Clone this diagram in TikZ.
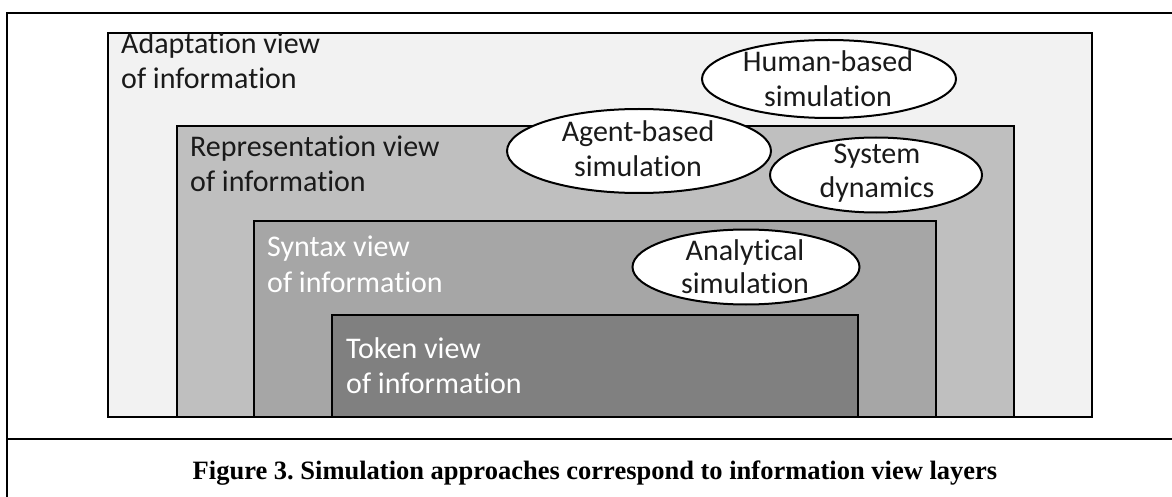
\documentclass[tikz,border=0pt]{standalone}
\usepackage{fontspec}
\setmainfont[Ligatures={NoCommon,NoRequired,NoContextual}]{Carlito}
\newfontfamily\capfont{Liberation Serif}
\usetikzlibrary{shapes.geometric}
\definecolor{adaptfill}{HTML}{F2F2F2}
\definecolor{reprfill}{HTML}{BFBFBF}
\definecolor{syntfill}{HTML}{A6A6A6}
\definecolor{tokfill}{HTML}{808080}
\definecolor{darktext}{HTML}{1A1A1A}
\newcommand{\tI}{t\kern0pt i}
\frenchspacing
\tikzset{
  layerbox/.style={draw=black, line width=2.4pt},
  lbl/.style={anchor=base west, inner sep=0pt, font=\fontsize{30}{35}\selectfont},
  elltxt/.style={anchor=base, inner sep=0pt, font=\fontsize{30}{35}\selectfont, text=darktext},
  simell/.style={ellipse, draw=black, line width=2pt, fill=white, inner sep=0pt},
  framel/.style={line width=1.8pt}
}
\begin{document}
\begin{tikzpicture}[x=1pt,y=-1pt]
\useasboundingbox (0,0) rectangle (1172,497);
% outer frame
\coordinate (fbl) at (7,497);
\coordinate (ftl) at (7,13);
\coordinate (ftr) at (1172,13);
\coordinate (fdl) at (7,439);
\coordinate (fdr) at (1172,439);
\draw[framel] (fbl) -- (ftl) -- (ftr);
\draw[framel] (fdl) -- (fdr);
% layers
\draw[layerbox, fill=adaptfill] (108,33) rectangle (1092,417);
\draw[layerbox, fill=reprfill] (177,126) rectangle (1014,417);
\draw[layerbox, fill=syntfill] (254,221) rectangle (936,417);
\draw[layerbox, fill=tokfill] (332,315) rectangle (858,417);
\draw[layerbox] (108,417) -- (1092,417);
% layer labels
\node[lbl, text=darktext] (a1) at (121,54) {Adapta\tI on view};
\node[lbl, text=darktext] (a2) at (121,89) {of informa\tI on};
\node[lbl, text=darktext] (r1) at (190,157) {Representa\tI on view};
\node[lbl, text=darktext] (r2) at (190,192) {of informa\tI on};
\node[lbl, text=white] (s1) at (267,256) {Syntax view};
\node[lbl, text=white] (s2) at (267,292) {of informa\tI on};
\node[lbl, text=white] (t1) at (346,358) {Token view};
\node[lbl, text=white] (t2) at (346,393) {of informa\tI on};
% ellipses
\node[simell, minimum width=254pt, minimum height=78pt] (hb) at (829,79) {};
\node[simell, minimum width=264pt, minimum height=84pt] (ab) at (639,151) {};
\node[simell, minimum width=212pt, minimum height=75pt] (sd) at (876,175) {};
\node[simell, minimum width=227pt, minimum height=75pt] (an) at (746,267) {};
\node[elltxt] (hb1) at (828,72) {Human-based};
\node[elltxt] (hb2) at (828,107) {simula\tI on};
\node[elltxt] (ab1) at (638,142) {Agent-based};
\node[elltxt] (ab2) at (638,177) {simula\tI on};
\node[elltxt] (sd1) at (877,164) {System};
\node[elltxt] (sd2) at (877,198) {dynamics};
\node[elltxt] (an1) at (745,260) {Analy\tI cal};
\node[elltxt] (an2) at (745,293) {simula\tI on};
% caption
\node[anchor=base, inner sep=0pt, font=\capfont\bfseries\fontsize{26.5}{30}\selectfont] (cap) at (595,479) {Figure 3. Simulation approaches correspond to information view layers};
\end{tikzpicture}
\end{document}
